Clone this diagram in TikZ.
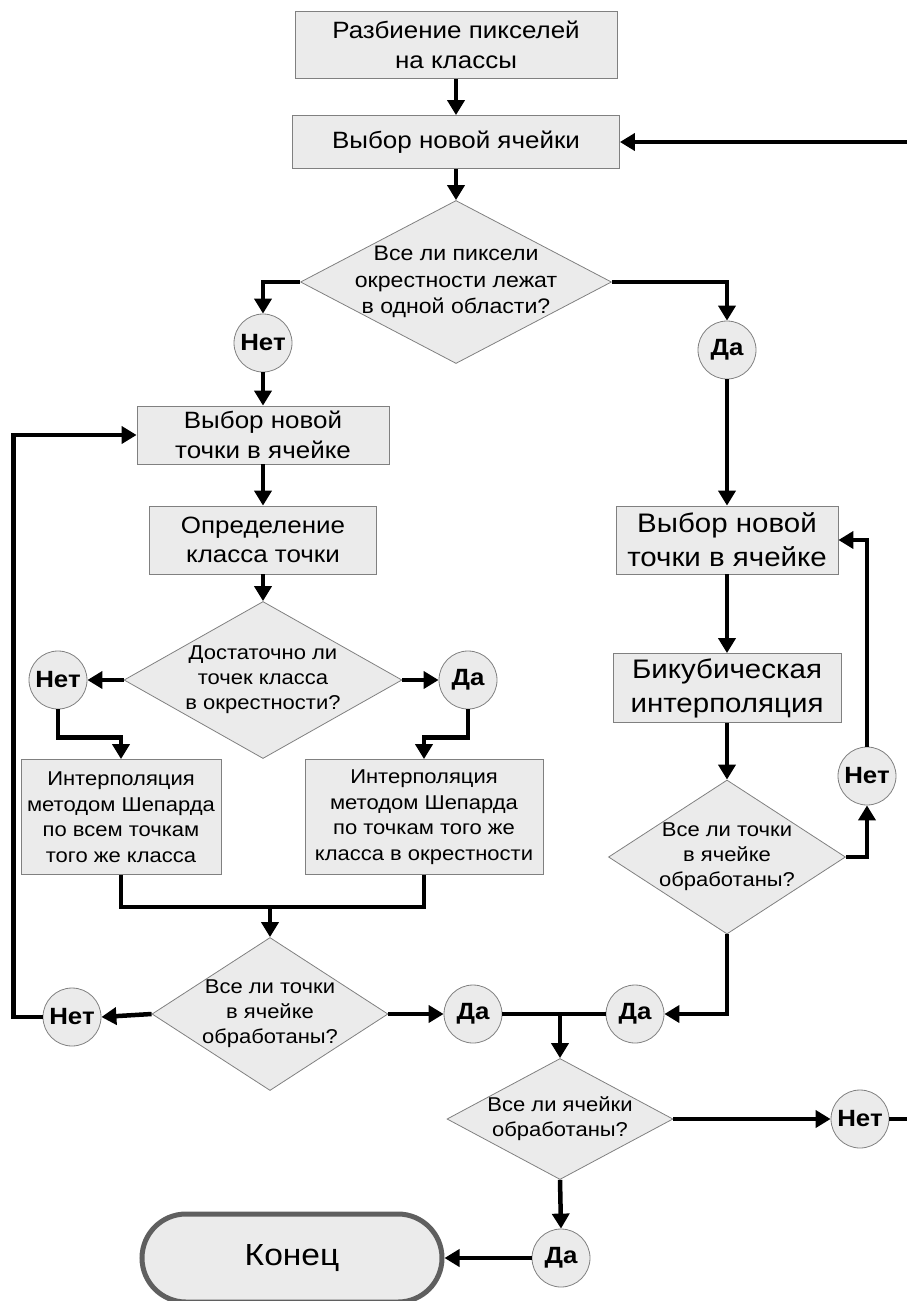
\documentclass[tikz,border=0pt]{standalone}
\usepackage{fontspec}
\setmainfont{Liberation Sans}[FakeStretch=1.1]
\usetikzlibrary{arrows.meta,shapes.geometric,calc}
\definecolor{shapefill}{HTML}{EBEBEB}
\definecolor{shapeline}{HTML}{808080}
\definecolor{termline}{HTML}{5F5F5F}

\tikzset{
  box/.style={draw=shapeline, fill=shapefill, line width=0.8pt, align=center,
    inner sep=0pt, font=\fontsize{23.6}{29.5}\selectfont},
  bigbox/.style={box, font=\fontsize{26.8}{34}\selectfont},
  smallbox/.style={box, font=\fontsize{20}{25.5}\selectfont},
  decision/.style={diamond, draw=shapeline, fill=shapefill, line width=0.8pt,
    align=center, inner xsep=-60pt, inner ysep=-40pt, font=\fontsize{20}{25}\selectfont},
  answer/.style={circle, draw=shapeline, fill=shapefill, line width=0.8pt,
    minimum size=58pt, inner sep=0pt, font=\bfseries\fontsize{23.5}{26}\selectfont},
  term/.style={draw=termline, fill=shapefill, line width=5pt, rounded corners=44pt,
    minimum width=300pt, minimum height=88pt, font=\fontsize{30.5}{36}\selectfont},
  flow/.style={line width=4.5pt, -{Triangle[length=15pt,width=17pt]}},
  wire/.style={line width=4.5pt},
}

\begin{document}
\begin{tikzpicture}[x=1pt, y=-1pt]
\useasboundingbox (0,0) rectangle (907,1301);

\node[box, minimum width=322pt, minimum height=67pt] (split) at (456,45) {Разбиение пикселей\\на классы};
\node[box, minimum width=327pt, minimum height=53pt] (cell) at (456,142) {Выбор новой ячейки};
\node[decision, minimum width=311pt, minimum height=163pt, font=\fontsize{21}{26.5}\selectfont] (q1) at (456,282)
  {Все ли пиксели\\окрестности лежат\\в одной области?};
\node[answer] (no1) at (263,343) {Нет};
\node[answer] (yes1) at (727,350) {Да};

% left branch
\node[box, minimum width=252pt, minimum height=58pt] (ptL) at (263,435) {Выбор новой\\точки в ячейке};
\node[box, minimum width=227pt, minimum height=68pt] (cls) at (263,540) {Определение\\класса точки};
\node[decision, minimum width=278pt, minimum height=157pt] (q2) at (263,680) {Достаточно ли\\точек класса\\в окрестности?};
\node[answer] (no2) at (58,680) {Нет};
\node[answer] (yes2) at (468,680) {Да};
\node[smallbox, minimum width=200pt, minimum height=115pt] (shepAll) at (121,817)
  {Интерполяция\\методом Шепарда\\по всем точкам\\того же класса};
\node[smallbox, minimum width=238pt, minimum height=115pt] (shepNear) at (424,817)
  {Интерполяция\\методом Шепарда\\по точкам того же\\класса в окрестности};
\coordinate (join) at (270,907);
\node[decision, minimum width=236pt, minimum height=153pt] (q3) at (270,1014) {Все ли точки\\в ячейке\\обработаны?};
\node[answer] (no3) at (72,1017) {Нет};
\node[answer] (yes3) at (473,1014) {Да};

% right branch
\node[bigbox, minimum width=222pt, minimum height=68pt] (ptR) at (727,540) {Выбор новой\\точки в ячейке};
\node[bigbox, minimum width=228pt, minimum height=69pt] (bicub) at (727,688) {Бикубическая\\интерполяция};
\node[decision, minimum width=237pt, minimum height=154pt] (q5) at (727,857) {Все ли точки\\в ячейке\\обработаны?};
\node[answer] (no5) at (867,776) {Нет};
\node[answer] (yes4) at (635,1014) {Да};
\coordinate (join2) at (560,1014);

% end
\node[decision, minimum width=226pt, minimum height=121pt] (q4) at (560,1119) {Все ли ячейки\\обработаны?};
\node[answer] (no4) at (860,1119) {Нет};
\node[answer] (yes5) at (561,1258) {Да};
\node[term] (stop) at (292,1258) {Конец};
\coordinate (loopin) at (907,142);
\coordinate (loopout) at (907,1119);

\draw[flow] (split) -- (cell);
\draw[flow] (loopin) -- (cell.east);
\draw[flow] (cell) -- (q1);
\draw[flow] (q1.west) -| (no1.north);
\draw[flow] (q1.east) -| (yes1.north);
\draw[flow] (no1) -- (ptL);
\draw[flow] (ptL) -- (cls);
\draw[flow] (cls) -- (q2);
\draw[flow] (q2.west) -- (no2.east);
\draw[flow] (q2.east) -- (yes2.west);
\draw[flow] (no2.south) -- ++(0,28) -| (shepAll.north);
\draw[flow] (yes2.south) -- ++(0,28) -| (shepNear.north);
\draw[wire] (shepAll.south) |- (join);
\draw[wire] (shepNear.south) |- (join);
\draw[flow] (join) -- (q3.north);
\draw[flow] (q3.west) -- (no3.east);
\draw[flow] (no3.west) -- ++(-29,0) |- (ptL.west);
\draw[flow] (q3.east) -- (yes3.west);
\draw[wire] (yes3.east) -- (yes4.west);
\draw[flow] (yes1) -- (ptR);
\draw[flow] (ptR) -- (bicub);
\draw[flow] (bicub) -- (q5);
\draw[flow] (q5.east) -| (no5.south);
\draw[flow] (no5.north) |- (ptR.east);
\draw[flow] (q5.south) |- (yes4.east);
\draw[flow] (join2) -- (q4.north);
\draw[flow] (q4.east) -- (no4.west);
\draw[wire] (no4.east) -- (loopout);
\draw[flow] (q4.south) -- (yes5.north);
\draw[flow] (yes5.west) -- (stop.east);
\end{tikzpicture}
\end{document}
